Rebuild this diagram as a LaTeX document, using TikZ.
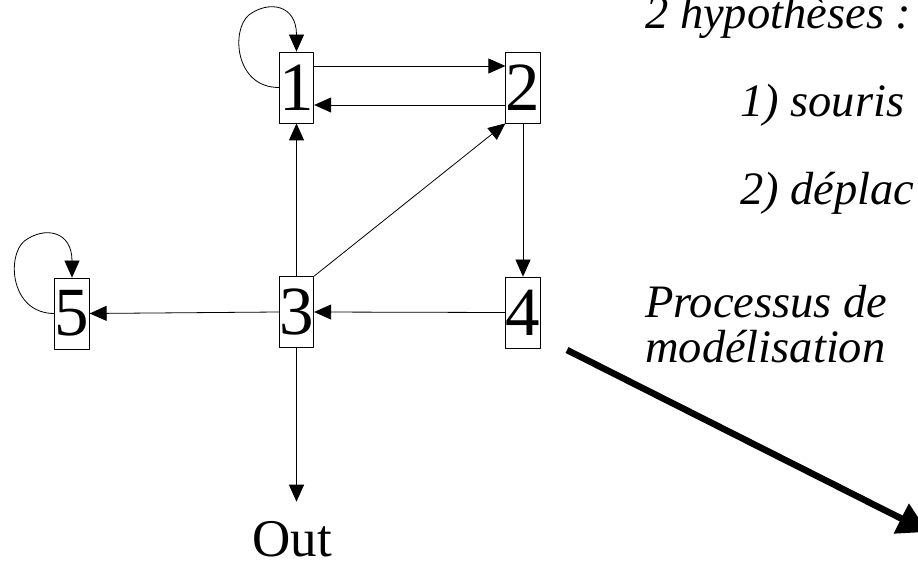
\documentclass[tikz,border=0pt]{standalone}
\usepackage{fontspec}
\setmainfont{Liberation Serif}[ItalicFont={Liberation Serif Italic}]
\usetikzlibrary{arrows.meta}
\begin{document}
\begin{tikzpicture}[x=1pt, y=-1pt, line join=round,
  etat/.style={draw, line width=0.8pt, inner sep=0pt, minimum width=33pt, minimum height=71pt, font=\fontsize{69}{69}\selectfont},
  fl/.style={line width=0.8pt, -{Triangle[length=17pt,width=15pt]}},
  hyp/.style={anchor=base west, inner sep=0pt, font=\fontsize{46.5}{46.5}\selectfont\itshape}]
  \useasboundingbox (0,0) rectangle (918,561);
  \clip (0,0) rectangle (918,561);
  \node[etat] (e1) at (296.5,87.5) {1};
  \node[etat] (e2) at (523,87.5) {2};
  \node[etat] (e3) at (296.5,312) {3};
  \node[etat] (e4) at (523,312.5) {4};
  \node[etat] (e5) at (72,313.5) {5};
  \node[anchor=base, inner sep=1pt, font=\fontsize{53}{53}\selectfont] (out) at (292,556) {Out};
  \draw[fl] (e1.east |- 0,66) -- (e2.west |- 0,66);
  \draw[fl] (e2.west |- 0,105) -- (e1.east |- 0,105);
  \draw[fl] (e3.north) -- (e1.south);
  \draw[fl] (e3.north east) -- (e2.south west);
  \draw[fl] (e2.south) -- (e4.north);
  \draw[fl] (e4.west) -- (e3.east);
  \draw[fl] (e3.west) -- (e5.east);
  \draw[fl, shorten >=18pt] (e3.south) -- (e3.south |- out.north);
  \foreach \e in {e1,e5}
    \draw[fl] (\e.west) .. controls +(-44,0) and +(-18,15) .. ++(-30,-72.5) .. controls +(20,-15) and +(0,-47) .. (\e.north);
  \node[hyp] (h0) at (645,29) {2 hypothèses :};
  \node[hyp] (h1) at (740,117) {1) souris};
  \node[hyp] (h2) at (740,205) {2) déplac};
  \node[hyp] (p1) at (645,317) {Processus de};
  \node[hyp] (p2) at (645,362) {modélisation};
  \coordinate (m0) at (567,350);
  \coordinate (m1) at (928,532);
  \draw[line width=6.5pt, -{Triangle[length=30pt,width=32pt]}] (m0) -- (m1);
\end{tikzpicture}
\end{document}
